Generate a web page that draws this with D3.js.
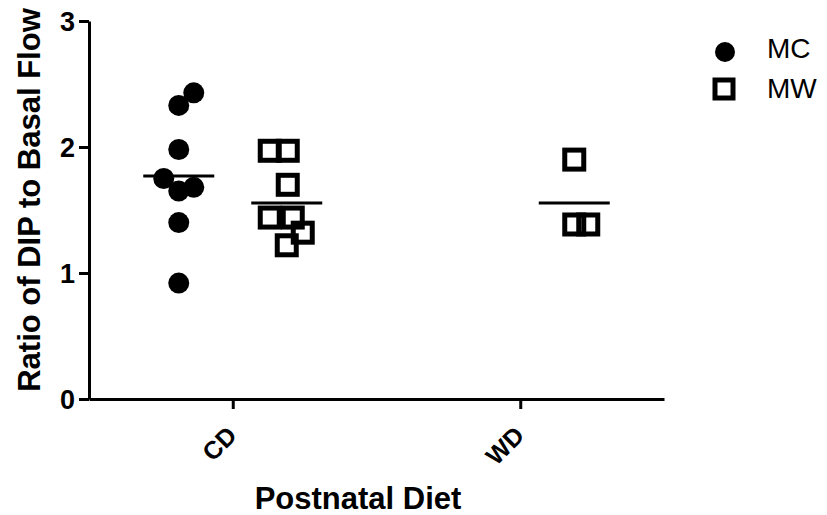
<!DOCTYPE html>
<html><head><meta charset="utf-8">
<script src="https://cdn.jsdelivr.net/npm/d3@7"></script>
<style>body{margin:0;background:#fff}svg{display:block}text{font-family:Arial,"Liberation Sans",sans-serif}</style>
</head><body>
<svg id="c" width="827" height="515"></svg>
<script>
const categories = ["CD", "WD"];
const seriesNames = ["MC", "MW"];
const yTicks = [0, 1, 2, 3];
// values
const mcCD = [2.43, 2.33, 1.98, 1.75, 1.68, 1.65, 1.40, 0.92];
const mcCDJitter = [15, 0, 0, -15, 15, 0, 0, 0];
const mwCD = [1.97, 1.97, 1.70, 1.44, 1.44, 1.32, 1.22];
const mwCDJitter = [-17, 1, 1, -17, 6, 16, 0];
const mwWD = [1.90, 1.385, 1.385];
const mwWDJitter = [0, 0, 14];
const meanCats = ["CD", "CD", "WD"];
const meanSeries = ["MC", "MW", "MW"];
const meanVals = [1.77, 1.556, 1.556];

const groups = [
  {cat: "CD", ser: "MC", vals: mcCD, jit: mcCDJitter},
  {cat: "CD", ser: "MW", vals: mwCD, jit: mwCDJitter},
  {cat: "WD", ser: "MW", vals: mwWD, jit: mwWDJitter}
];

const svg = d3.select("#c");
const x = d3.scalePoint().domain(categories).range([89, 664]).padding(0.5);
const xs = d3.scalePoint().domain(seriesNames).range([-54, 54]);
const y = d3.scaleLinear().domain([0, 3]).range([399, 21]);

// Y axis
const ya = svg.append("g").attr("transform", "translate(89,0)")
  .call(d3.axisLeft(y).tickValues(yTicks).tickFormat(d3.format("d")).tickSize(10).tickSizeOuter(0).tickPadding(4));
ya.select(".domain").attr("stroke-width", 3);
ya.selectAll(".tick line").attr("stroke-width", 3);
ya.selectAll(".tick text").attr("font-size", 27).attr("font-weight", "bold").attr("fill", "#000")
  .attr("font-family", "Arial, 'Liberation Sans', sans-serif").attr("dy", "0.36em");

// X axis
const xa = svg.append("g").attr("transform", "translate(0,399)")
  .call(d3.axisBottom(x).tickSize(10).tickSizeOuter(0));
xa.select(".domain").attr("stroke-width", 3);
xa.selectAll(".tick line").attr("stroke-width", 3);
xa.selectAll(".tick text").attr("font-size", 25).attr("font-weight", "bold").attr("fill", "#000")
  .attr("font-family", "Arial, 'Liberation Sans', sans-serif")
  .attr("text-anchor", "end").attr("dy", 0).attr("y", 0)
  .attr("transform", "translate(5,38) rotate(-45)");

// points
groups.forEach(g => {
  const cx = x(g.cat) + xs(g.ser);
  const sel = svg.append("g");
  g.vals.forEach((v, i) => {
    if (g.ser === "MC") {
      sel.append("circle").attr("cx", cx + g.jit[i]).attr("cy", y(v)).attr("r", 10.5).attr("fill", "#000");
    } else {
      sel.append("rect").attr("x", cx + g.jit[i] - 9.5).attr("y", y(v) - 9.5)
        .attr("width", 19).attr("height", 19).attr("fill", "none").attr("stroke", "#000").attr("stroke-width", 5);
    }
  });
});

// means
meanVals.forEach((m, i) => {
  const cx = x(meanCats[i]) + xs(meanSeries[i]);
  svg.append("line").attr("x1", cx - 35.5).attr("x2", cx + 35.5).attr("y1", y(m)).attr("y2", y(m))
    .attr("stroke", "#000").attr("stroke-width", 3);
});

// axis titles
svg.append("text").attr("x", 358).attr("y", 509).attr("text-anchor", "middle")
  .attr("font-size", 31).attr("font-weight", "bold").text("Postnatal Diet");
svg.append("text").attr("transform", "translate(40,200) rotate(-90)").attr("text-anchor", "middle")
  .attr("font-size", 31).attr("font-weight", "bold").text("Ratio of DIP to Basal Flow");

// legend
const lg = svg.append("g");
lg.append("circle").attr("cx", 725).attr("cy", 52).attr("r", 10).attr("fill", "#000");
lg.append("rect").attr("x", 715).attr("y", 80).attr("width", 18).attr("height", 18)
  .attr("fill", "none").attr("stroke", "#000").attr("stroke-width", 5);
lg.append("text").attr("x", 767).attr("y", 58).attr("font-size", 28).text(seriesNames[0]);
lg.append("text").attr("x", 767).attr("y", 98).attr("font-size", 28).text(seriesNames[1]);
</script>
</body></html>
